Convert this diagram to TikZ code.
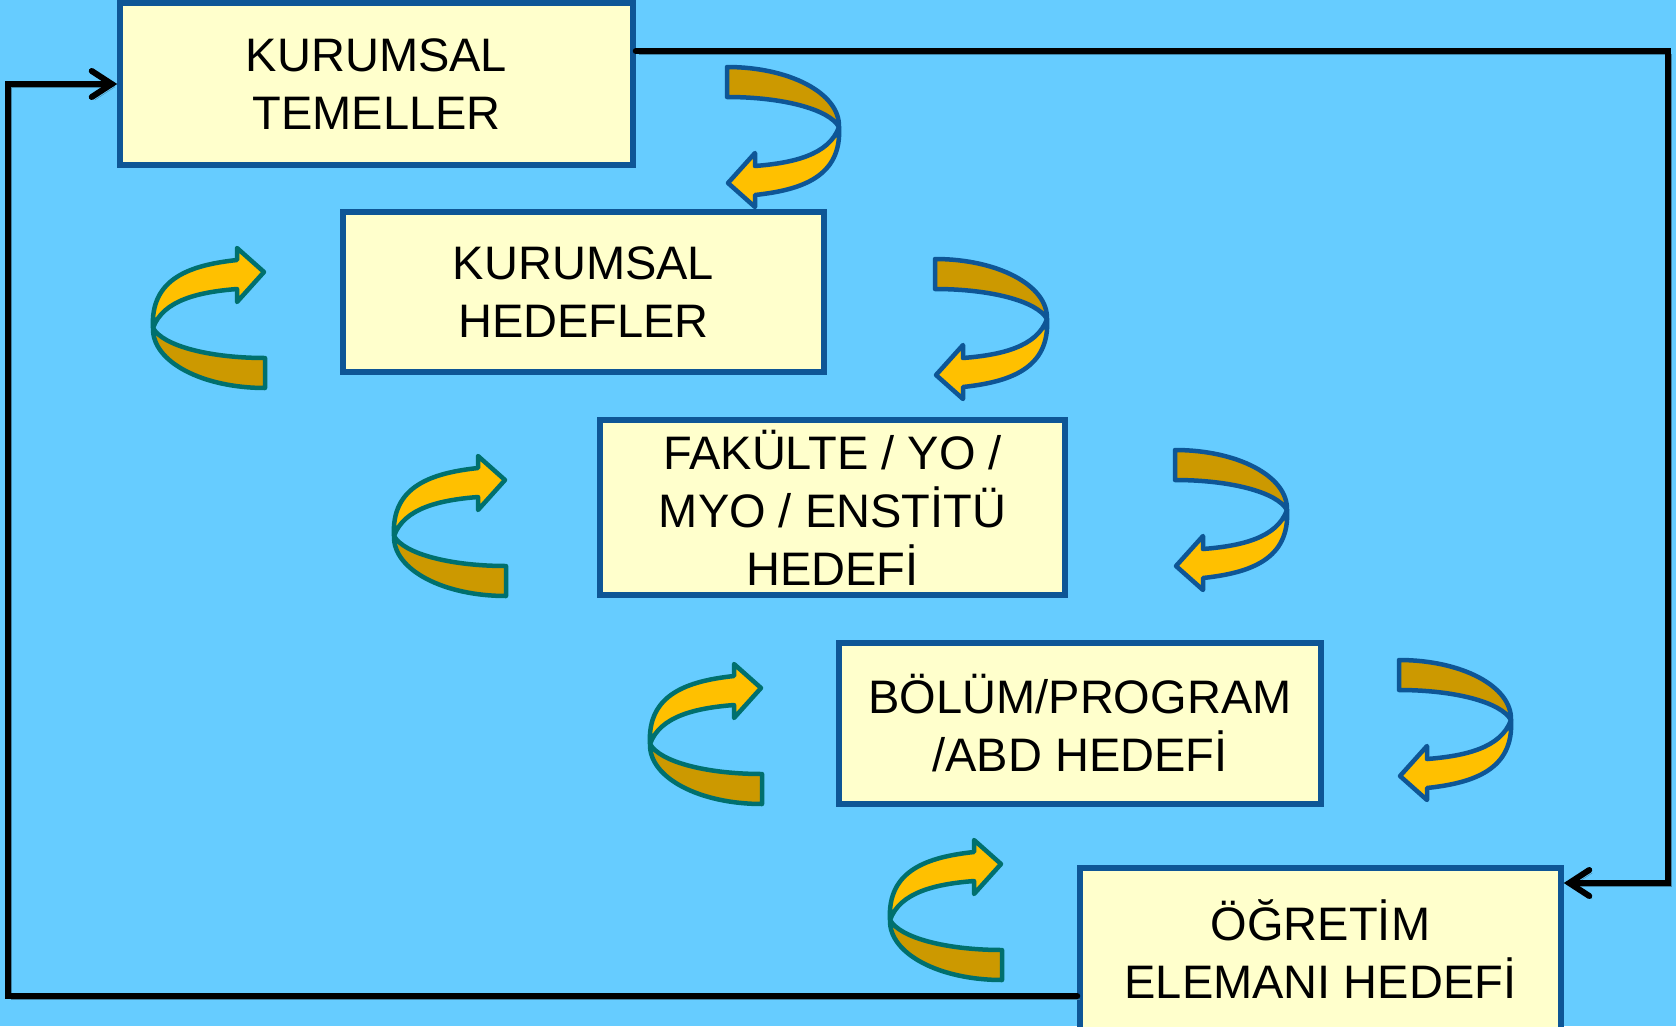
\documentclass[tikz,border=0pt]{standalone}
\usepackage{fontspec}
\setmainfont{Liberation Sans}
\usepackage{tikz}
\usetikzlibrary{arrows.meta}

\definecolor{sky}{HTML}{66CCFF}
\definecolor{cream}{HTML}{FFFFCC}
\definecolor{frame}{HTML}{0E5696}
\definecolor{gold}{HTML}{FFC000}
\definecolor{ochre}{HTML}{CC9900}
\definecolor{sea}{HTML}{00706E}

% turning ribbon arrow, #1 = outline colour
\tikzset{
  uturn/.pic={
    \filldraw[draw=#1, fill=gold, line width=4.5pt, line join=round]
      (112,60) .. controls (102,88) and (66,96) .. (28,99) -- (28,86) -- (1,116)
      -- (28,140) -- (28,128) .. controls (74,123) and (115,110) .. (112,60) -- cycle;
    \filldraw[draw=#1, fill=ochre, line width=4.5pt, line join=round]
      (0,0) .. controls (62,0) and (113,26) .. (112,60)
      .. controls (102,42) and (55,30) .. (0,30) -- cycle;
  }
}

\begin{document}
\begin{tikzpicture}[x=1pt, y=-1pt,
    goal/.style={draw=frame, fill=cream, line width=5.5pt, align=center,
      inner sep=0pt, font=\fontsize{47}{58}\selectfont},
    link/.style={line width=6pt, line cap=round,
      -{Straight Barb[length=20pt, width=26pt, line cap=round]},
      preaction={draw=black!35!sky, transform canvas={shift={(3pt,-3pt)}}}}]
    % background
    \fill[sky] (0,0) rectangle (1676,1026);
    \useasboundingbox (0,0) rectangle (1676,1026);

    % draw the goal boxes
    \node[goal, minimum width=513pt, minimum height=162pt] (temel) at (376.5,84) {KURUMSAL\\TEMELLER};
    \node[goal, minimum width=481pt, minimum height=160pt] (hedef) at (583.5,292) {KURUMSAL\\HEDEFLER};
    \node[goal, minimum width=465pt, minimum height=175pt] (fakulte) at (832.5,507.5) {FAKÜLTE / YO /\\MYO / ENSTİTÜ\\HEDEFİ};
    \node[goal, minimum width=482pt, minimum height=161pt] (bolum) at (1080,723.5) {BÖLÜM/PROGRAM\\/ABD HEDEFİ};
    \node[goal, minimum width=481pt, minimum height=162pt] (ogretim) at (1320.5,949) {ÖĞRETİM\\ELEMANI HEDEFİ};

    % draw outer loop
    \draw[link] ([yshift=33pt]temel.east) -- ++(1032,0) |- ([yshift=66pt]ogretim.east);
    \draw[link] ([yshift=-47pt]ogretim.west) -| ([xshift=-109pt]temel.west) -- (temel.west);

    % draw downward turns
    \pic at (727,67) {uturn=frame};
    \pic at (935,259) {uturn=frame};
    \pic at (1175,450) {uturn=frame};
    \pic at (1399,660) {uturn=frame};

    % draw upward turns
    \pic[rotate=180] at (265,388) {uturn=sea};
    \pic[rotate=180] at (506,596) {uturn=sea};
    \pic[rotate=180] at (762,804) {uturn=sea};
    \pic[rotate=180] at (1002,980) {uturn=sea};
\end{tikzpicture}
\end{document}
